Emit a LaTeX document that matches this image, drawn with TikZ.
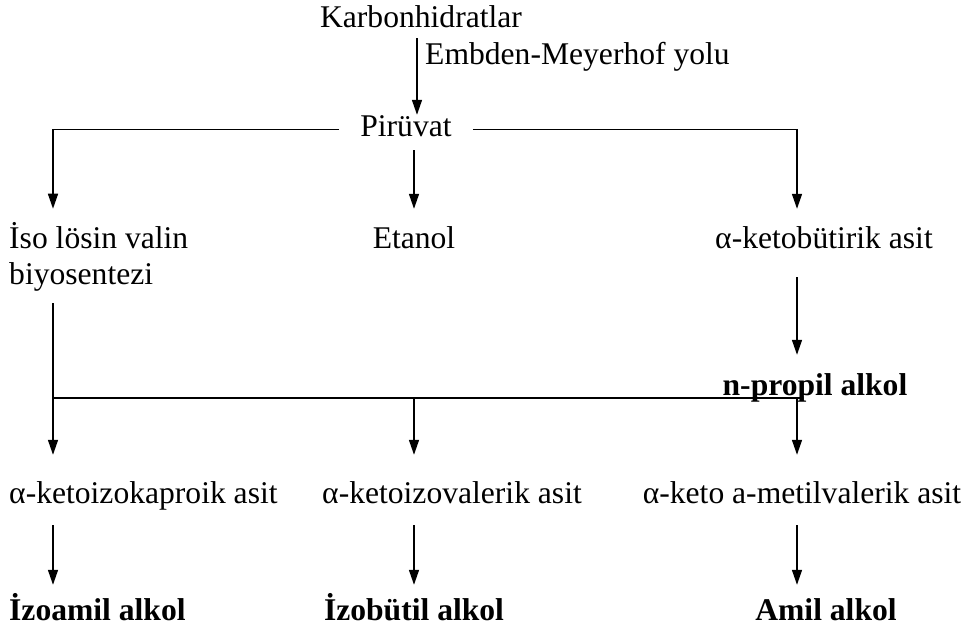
\documentclass[tikz,border=0pt]{standalone}
\usepackage{fontspec}
\setmainfont{Liberation Serif}
\usetikzlibrary{arrows.meta,positioning,calc}

\begin{document}
\begin{tikzpicture}[
    x=1pt, y=1pt,
    txt/.style={inner sep=0pt, anchor=base, font=\fontsize{31.6}{36}\selectfont, text height=22pt, text depth=7pt},
    boldtxt/.style={txt, font=\fontsize{31.6}{36}\selectfont\bfseries},
    multitxt/.style={inner sep=0pt, anchor=base west, align=left, font=\fontsize{31.6}{36}\selectfont},
    normalline/.style={line width=1.5pt},
    arrowline/.style={normalline, -{Triangle[length=15pt, width=10pt]}, shorten <=15pt, shorten >=18pt},
  ]
  \useasboundingbox (0,0) rectangle (967,625);

  % ------------ top
  \node[txt] (karbon) at (421,597) {Karbonhidratlar};
  \node[txt, anchor=base west] (embden) at (425,560) {Embden-Meyerhof yolu};
  \node[txt, inner xsep=21pt] (piruvat) at (406,488) {Pirüvat};

  \coordinate (topcol) at (417,0);
  \coordinate (colA) at (53,227);
  \coordinate (colB) at (414,227);
  \coordinate (colC) at (797,227);

  \draw [arrowline, shorten <=3pt, shorten >=0pt] (karbon.south -| topcol) -- (piruvat.north -| topcol);

  % ------------ second row
  % base of a two-line node is the last line
  \node[multitxt] (iso) at (9,340) {İso lösin valin\\biyosentezi};
  \node[txt] (etanol) at (414,376) {Etanol};
  \node[txt] (ketobut) at (824,376) {α-ketobütirik asit};
  \node[boldtxt] (npropil) at (815,230) {n-propil alkol};

  \draw [arrowline, shorten <=0pt, shorten >=14pt] (piruvat.west) -| (iso.north -| colA);
  \draw [arrowline, shorten <=6pt] (piruvat.south -| colB) -- (etanol.north -| colB);
  \draw [arrowline, shorten <=0pt] (piruvat.east) -| (ketobut.north -| colC);
  \draw [arrowline, shorten <=21pt] (ketobut.south -| colC) -- (npropil.north -| colC);

  \draw [normalline, shorten <=11pt] (iso.south -| colA) -- (colA) -- ([xshift=3pt]colC);

  % ------------ third row
  \node[txt, anchor=base west] (kaproik) at (9,122) {α-ketoizokaproik asit};
  \node[txt] (valerik) at (452,122) {α-ketoizovalerik asit};
  \node[txt] (metil) at (802,122) {α-keto a-metilvalerik asit};

  \foreach \col/\dest in {colA/kaproik, colB/valerik, colC/metil}
    \draw [arrowline, shorten <=0pt, shorten >=26pt] (\col) -- (\dest.north -| \col);

  % ------------ alcohols
  \node[boldtxt, anchor=base west] (izoamil) at (9,5) {İzoamil alkol};
  \node[boldtxt] (izobutil) at (414,5) {İzobütil alkol};
  \node[boldtxt] (amil) at (826,5) {Amil alkol};

  \foreach \src/\dest/\col in {kaproik/izoamil/colA, valerik/izobutil/colB, metil/amil/colC}
    \draw [arrowline, shorten >=13pt] (\src.south -| \col) -- (\dest.north -| \col);

\end{tikzpicture}
\end{document}
